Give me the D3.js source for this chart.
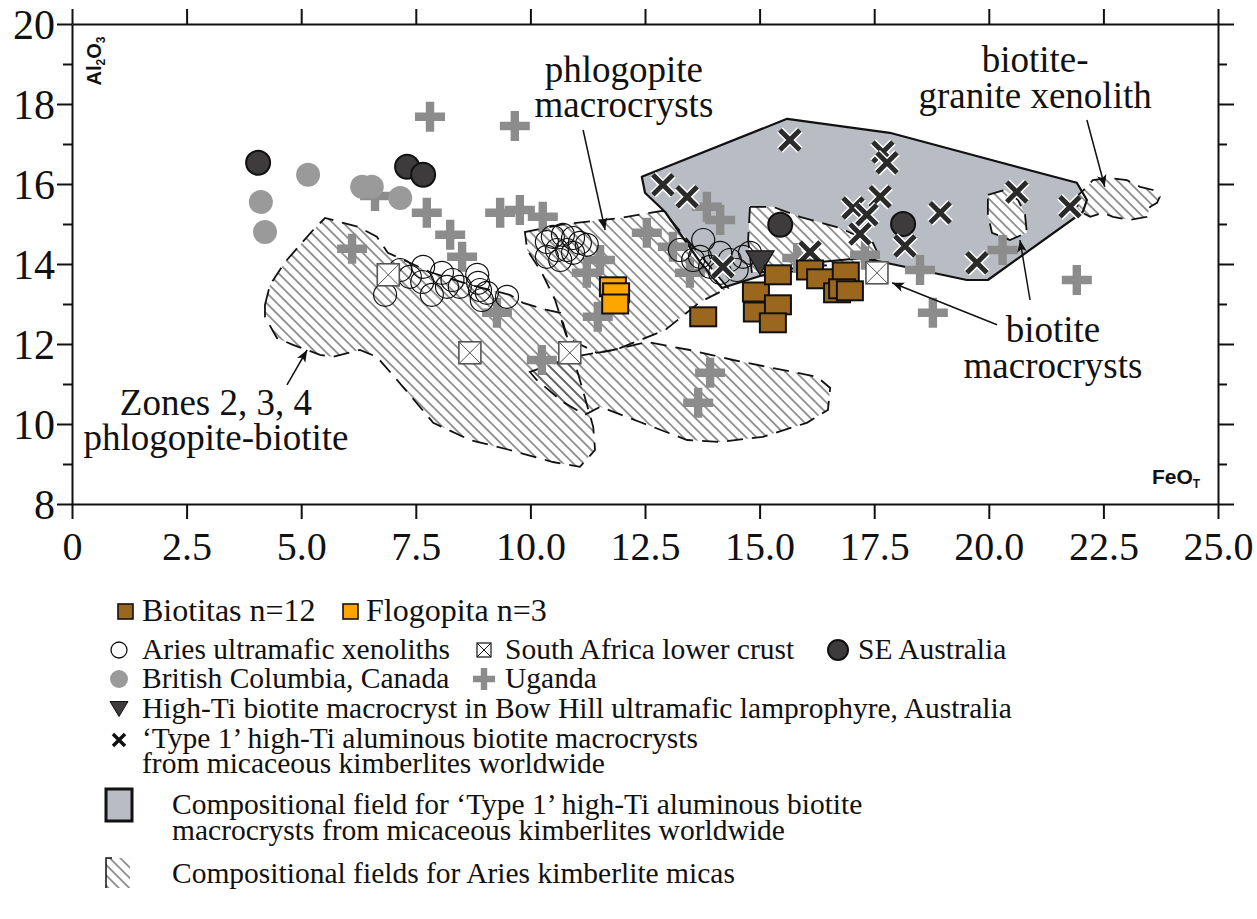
<!DOCTYPE html>
<html><head><meta charset="utf-8">
<script src="https://cdn.jsdelivr.net/npm/d3@7"></script>
<style>body{margin:0;background:#fff}</style>
</head><body><svg id="c" width="1257" height="919"></svg>
<script>
// ---------------- data (FeO_T wt%, Al2O3 wt%) ----------------
const xTicks=[0,2.5,5,7.5,10,12.5,15,17.5,20,22.5,25];
const xTickLabels=["0","2.5","5.0","7.5","10.0","12.5","15.0","17.5","20.0","22.5","25.0"];
const yMajor=[8,10,12,14,16,18,20];
const yMinor=[9,11,13,15,17,19];

const biotitas=[[13.77,12.68],[14.92,13.3],[15.4,13.73],[14.94,12.8],[15.4,12.98],[15.29,12.53],[16.1,13.85],[16.32,13.63],[16.88,13.8],[16.69,13.28],[16.8,13.38],[16.97,13.33]];
const flogopita=[[11.8,13.43],[11.87,13.28],[11.85,13.0]];
const ariesXenoliths=[[6.83,13.23],[7.16,13.85],[7.37,13.68],[7.66,13.93],[7.64,13.55],[7.85,13.23],[8.07,13.78],[8.18,13.43],[8.46,13.43],[8.84,13.73],[8.86,13.53],[8.9,13.35],[9.05,13.28],[9.49,13.18],[8.94,13.1],[8.3,13.6],
 [10.36,14.55],[10.49,14.68],[10.71,14.73],[10.93,14.65],[11.08,14.53],[11.23,14.48],[10.58,14.35],[10.8,14.35],[10.36,14.18],[10.65,14.1],[10.93,14.28],
 [13.26,14.35],[13.77,14.6],[13.7,14.18],[13.92,13.93],[14.14,14.28],[14.35,14.1],[14.14,13.78],[14.64,14.18],[14.5,13.85],[14.79,14.28],[13.55,14.1]];
const southAfrica=[[6.9,13.73],[8.68,11.78],[10.86,11.78],[17.56,13.78]];
const seAustralia=[[4.06,16.53],[7.31,16.43],[7.66,16.23],[15.45,14.98],[18.13,15.0]];
const britishColumbia=[[4.12,15.55],[4.21,14.8],[5.15,16.23],[6.33,15.93],[6.54,15.93],[7.16,15.65]];
const uganda=[[6.11,14.38],[6.61,15.7],[7.74,15.28],[7.81,17.68],[9.66,17.45],[8.25,14.73],[8.51,14.18],[9.27,12.78],[9.34,15.28],[9.77,15.35],[10.27,15.18],[11.52,14.1],[11.23,13.78],[11.47,12.68],[10.25,11.6],[13.92,11.28],[13.66,10.53],[12.54,14.78],[13.11,14.43],[13.85,15.43],[14.14,15.1],[13.48,13.78],[15.82,14.15],[17.3,14.23],[18.5,13.85],[18.78,12.78],[20.3,14.35],[21.92,13.6]];
const bowHill=[[15.01,14.03]];
const type1=[[15.66,17.1],[17.69,16.8],[17.78,16.53],[12.89,15.98],[13.42,15.68],[17.63,15.68],[17.04,15.4],[17.34,15.23],[18.94,15.28],[17.19,14.75],[18.17,14.45],[20.61,15.8],[19.74,14.03],[21.77,15.43],[16.1,14.3],[14.2,13.93]];

// compositional fields
const type1Field=[[12.43,16.18],[15.6,17.63],[17.84,17.28],[21.92,16.03],[22.14,15.6],[22.05,15.3],[19.98,13.6],[19.52,13.6],[17.26,14.15],[16.32,14.05],[15.01,13.7],[14.18,13.4],[13.7,14.05],[12.94,15.3],[12.5,15.78]];
const fieldZones=[[4.21,12.98],[4.32,13.48],[4.65,14.05],[5.26,14.85],[5.52,15.15],[6.24,14.93],[6.65,14.68],[6.89,14.28],[7.81,13.8],[8.68,13.48],[9.55,13.23],[9.84,13.03],[10.36,12.85],[10.65,12.78],[10.8,12.18],[11.08,11.1],[11.37,9.93],[11.41,9.35],[11.08,8.93],[10.49,9.05],[9.55,9.35],[8.68,9.6],[7.88,10.03],[7.22,10.93],[6.65,11.68],[6.28,11.85],[5.69,11.68],[5.41,11.73],[4.82,11.98],[4.47,12.15],[4.21,12.68]];
const fieldPhlogopite=[[9.88,14.8],[10.65,14.98],[11.95,15.15],[12.89,15.33],[13.7,14.23],[14.31,13.4],[13.7,13.05],[12.94,12.35],[11.85,11.85],[11.45,11.78],[10.8,12.15],[10.54,13.1],[10.25,13.78],[9.93,14.35]];
const fieldLower=[[9.99,11.3],[10.93,11.68],[11.8,11.85],[12.54,12.05],[13.48,11.85],[14.42,11.6],[15.29,11.4],[16.25,11.18],[16.54,10.9],[16.49,10.35],[16.03,10.03],[15.07,9.68],[14.14,9.55],[13.42,9.6],[12.39,10.05],[11.52,10.43],[11.19,10.23],[10.71,10.55],[10.14,11.1]];
const fieldBiotite=[[14.79,15.43],[15.29,15.43],[15.88,15.18],[16.75,14.9],[17.47,14.53],[17.63,14.15],[17.19,14.05],[16.32,13.95],[15.66,13.8],[14.83,13.8],[14.75,14.6]];
const fieldBiotite2=[[19.98,15.73],[20.35,15.85],[20.64,15.6],[20.79,15.23],[20.83,14.78],[20.46,14.6],[20.07,14.78],[19.98,15.23]];
const fieldXenolith=[[21.84,15.6],[22.14,15.93],[22.27,16.1],[22.64,16.15],[23.01,16.1],[23.3,15.93],[23.58,15.85],[23.73,15.68],[23.67,15.53],[23.52,15.43],[23.45,15.18],[23.08,15.1],[22.71,15.18],[22.49,15.28],[22.21,15.18],[22.05,15.28]];

// annotations (data units)
const annoText=[
 {t:"phlogopite",x:12.04,y:18.55},{t:"macrocrysts",x:12.04,y:17.68},
 {t:"biotite-",x:21.01,y:18.8},{t:"granite xenolith",x:21.01,y:17.9},
 {t:"biotite",x:21.4,y:12.05},{t:"macrocrysts",x:21.4,y:11.15},
 {t:"Zones 2, 3, 4",x:3.14,y:10.23},{t:"phlogopite-biotite",x:3.14,y:9.35}];
const annoArrows=[[[11.15,17.35],[11.63,14.85]],[[22.14,17.6],[22.53,15.93]],[[20.18,12.48],[17.89,13.53]],[[20.9,13.1],[20.68,14.6]],[[4.69,10.98],[5.13,11.85]]];

// ---------------- drawing ----------------
const svg=d3.select("#c");
const x=d3.scaleLinear().domain([0,25]).range([72,1218]);
const y=d3.scaleLinear().domain([8,20]).range([504,24]);
const SERIF="'Liberation Serif','Times New Roman',serif";
const SANS="'Liberation Sans',Arial,sans-serif";
const INK="#111";

const defs=svg.append("defs");
const pat=defs.append("pattern").attr("id","hatch").attr("patternUnits","userSpaceOnUse")
 .attr("width",10).attr("height",7.4).attr("patternTransform","rotate(45)");
pat.append("line").attr("x1",-1).attr("x2",11).attr("y1",3.7).attr("y2",3.7).attr("stroke","#444").attr("stroke-width",1.1);
defs.append("marker").attr("id","arr").attr("viewBox","0 0 10 10").attr("refX",10).attr("refY",5)
 .attr("markerUnits","userSpaceOnUse").attr("markerWidth",20).attr("markerHeight",12).attr("orient","auto")
 .append("path").attr("d","M0,1 L10,5 L0,9 L2.5,5 Z").attr("fill",INK);

const poly=d3.line().x(d=>x(d[0])).y(d=>y(d[1])).curve(d3.curveLinearClosed);

// grey field fill
svg.append("path").attr("d",poly(type1Field)).attr("fill","#b9bcc3");
// hatched fields
const hatchFields=[fieldZones,fieldPhlogopite,fieldLower,fieldBiotite,fieldBiotite2,fieldXenolith];
const gH=svg.append("g");
gH.selectAll("path.w").data(hatchFields).join("path").attr("class","w").attr("d",d=>poly(d)).attr("fill","#fff");
gH.selectAll("path.h").data(hatchFields).join("path").attr("class","h").attr("d",d=>poly(d)).attr("fill","url(#hatch)");
gH.selectAll("path.o").data(hatchFields).join("path").attr("class","o").attr("d",d=>poly(d))
 .attr("fill","none").attr("stroke",INK).attr("stroke-width",1.8).attr("stroke-dasharray","16,9");
// grey field outline
svg.append("path").attr("d",poly(type1Field)).attr("fill","none").attr("stroke",INK).attr("stroke-width",2.2).attr("stroke-linejoin","round");

// ---------------- axes ----------------
function styleAxis(g){g.selectAll("path,line").attr("stroke",INK).attr("stroke-width",2);g.selectAll("text").attr("fill",INK).attr("font-family",SERIF);}
svg.append("g").attr("transform",`translate(0,${y(8)})`)
 .call(d3.axisBottom(x).tickValues(xTicks).tickFormat((d,i)=>xTickLabels[i]).tickSize(15).tickSizeOuter(0).tickPadding(13))
 .call(styleAxis).selectAll("text").attr("font-size",40);
svg.append("g").attr("transform",`translate(0,${y(20)})`)
 .call(d3.axisTop(x).tickValues(xTicks).tickFormat("").tickSize(15).tickSizeOuter(0)).call(styleAxis);
svg.append("g").attr("transform",`translate(${x(0)},0)`)
 .call(d3.axisLeft(y).tickValues(yMajor).tickFormat(d3.format("d")).tickSize(15).tickSizeOuter(0).tickPadding(2))
 .call(styleAxis).selectAll("text").attr("font-size",42).attr("dy","0.34em");
svg.append("g").attr("transform",`translate(${x(0)},0)`)
 .call(d3.axisLeft(y).tickValues(yMinor).tickFormat("").tickSize(9)).call(styleAxis).select(".domain").remove();
svg.append("g").attr("transform",`translate(${x(25)},0)`)
 .call(d3.axisRight(y).tickValues(yMajor).tickFormat("").tickSize(16).tickSizeOuter(0)).call(styleAxis);
svg.append("g").attr("transform",`translate(${x(25)},0)`)
 .call(d3.axisRight(y).tickValues(yMinor).tickFormat("").tickSize(9)).call(styleAxis).select(".domain").remove();

// axis titles
const t1=svg.append("text").attr("transform",`translate(101,61) rotate(-90)`).attr("text-anchor","middle")
 .attr("font-family",SANS).attr("font-weight","bold").attr("font-size",20).attr("fill",INK);
t1.append("tspan").text("Al");t1.append("tspan").attr("font-size",12).attr("dy",4).text("2");
t1.append("tspan").attr("dy",-4).text("O");t1.append("tspan").attr("font-size",12).attr("dy",4).text("3");
const t2=svg.append("text").attr("x",1152).attr("y",484).attr("font-family",SANS).attr("font-weight","bold").attr("font-size",21).attr("fill",INK);
t2.append("tspan").text("FeO");t2.append("tspan").attr("font-size",12).attr("dy",4).text("T");

// ---------------- markers ----------------
function plusPath(L,w){return `M${-L},${-w}H${-w}V${-L}H${w}V${-w}H${L}V${w}H${w}V${L}H${-w}V${w}H${-L}Z`;}
function drawPlus(g,pts,L=15,w=4.2){g.selectAll(null).data(pts).join("path").attr("d",plusPath(L,w))
 .attr("transform",d=>`translate(${x(d[0])},${y(d[1])})`).attr("fill","#8c8c8c");}
function drawX(g,pts,h=10,sw=5){
 const gg=g.selectAll(null).data(pts).join("g").attr("transform",d=>`translate(${x(d[0])},${y(d[1])})`);
 gg.append("path").attr("d",`M${-h},${-h}L${h},${h}M${-h},${h}L${h},${-h}`).attr("stroke","#fff").attr("stroke-width",sw+3);
 gg.append("path").attr("d",`M${-h},${-h}L${h},${h}M${-h},${h}L${h},${-h}`).attr("stroke","#2a2a2a").attr("stroke-width",sw);
}
function drawBox(g,pts,fill,w=26,h=19){g.selectAll(null).data(pts).join("rect").attr("x",d=>x(d[0])-w/2).attr("y",d=>y(d[1])-h/2)
 .attr("width",w).attr("height",h).attr("fill",fill).attr("stroke",INK).attr("stroke-width",2);}
function drawSA(g,pts,s=22){const gg=g.selectAll(null).data(pts).join("g").attr("transform",d=>`translate(${x(d[0])},${y(d[1])})`);
 gg.append("rect").attr("x",-s/2).attr("y",-s/2).attr("width",s).attr("height",s).attr("fill","#fff").attr("stroke","#555").attr("stroke-width",1.6);
 gg.append("path").attr("d",`M${-s/2},${-s/2}L${s/2},${s/2}M${-s/2},${s/2}L${s/2},${-s/2}`).attr("stroke","#555").attr("stroke-width",1);}
function triPath(w,h){return `M${-w/2},${-h/2}L${w/2},${-h/2}L0,${h/2}Z`;}

const gm=svg.append("g");
drawPlus(gm,uganda);
gm.selectAll(null).data(britishColumbia).join("circle").attr("cx",d=>x(d[0])).attr("cy",d=>y(d[1])).attr("r",12).attr("fill","#9a9a9a");
gm.selectAll(null).data(seAustralia).join("circle").attr("cx",d=>x(d[0])).attr("cy",d=>y(d[1])).attr("r",12).attr("fill","#3d3b3c").attr("stroke",INK).attr("stroke-width",2);
gm.selectAll(null).data(ariesXenoliths).join("circle").attr("cx",d=>x(d[0])).attr("cy",d=>y(d[1])).attr("r",11.5).attr("fill","none").attr("stroke",INK).attr("stroke-width",1.2);
drawSA(gm,southAfrica);
drawX(gm,type1);
gm.selectAll(null).data(bowHill).join("path").attr("d",triPath(28,24)).attr("transform",d=>`translate(${x(d[0])},${y(d[1])})`).attr("fill","#3d3b3c").attr("stroke",INK).attr("stroke-width",1.2);
drawBox(gm,biotitas,"#9b671f");
drawBox(gm,flogopita,"#ffa500");

// annotations
svg.append("g").selectAll("line").data(annoArrows).join("line")
 .attr("x1",d=>x(d[0][0])).attr("y1",d=>y(d[0][1])).attr("x2",d=>x(d[1][0])).attr("y2",d=>y(d[1][1]))
 .attr("stroke",INK).attr("stroke-width",1.5).attr("marker-end","url(#arr)");
svg.append("g").selectAll("text").data(annoText).join("text").attr("x",d=>x(d.x)).attr("y",d=>y(d.y))
 .attr("text-anchor","middle").attr("font-family",SERIF).attr("font-size",37).attr("fill",INK).text(d=>d.t);

// ---------------- legend ----------------
const lg=svg.append("g").attr("font-family",SERIF).attr("font-size",29.5).attr("fill",INK);
function ltext(tx,ty,s,fs){const t=lg.append("text").attr("x",tx).attr("y",ty).text(s);if(fs)t.attr("font-size",fs);}
const LB=9; // baseline offset from row centre
// row 1
lg.append("rect").attr("x",118).attr("y",604).attr("width",15).attr("height",15).attr("fill","#9b671f").attr("stroke",INK).attr("stroke-width",1.6);
ltext(142,612+LB,"Biotitas n=12",32);
lg.append("rect").attr("x",343).attr("y",604).attr("width",15).attr("height",15).attr("fill","#ffa500").attr("stroke",INK).attr("stroke-width",1.6);
ltext(366,612+LB,"Flogopita n=3",32);
// row 2
lg.append("circle").attr("cx",119).attr("cy",650).attr("r",8).attr("fill","none").attr("stroke",INK).attr("stroke-width",1.3);
ltext(142,650+LB,"Aries ultramafic xenoliths");
lg.append("rect").attr("x",477).attr("y",643).attr("width",14).attr("height",14).attr("fill","none").attr("stroke",INK).attr("stroke-width",1.2);
lg.append("path").attr("d","M477,643L491,657M477,657L491,643").attr("stroke",INK).attr("stroke-width",1);
ltext(505,650+LB,"South Africa lower crust");
lg.append("circle").attr("cx",838).attr("cy",650).attr("r",10).attr("fill","#3d3b3c").attr("stroke",INK).attr("stroke-width",2);
ltext(858,650+LB,"SE Australia");
// row 3
lg.append("circle").attr("cx",119).attr("cy",679).attr("r",9).attr("fill","#9a9a9a");
ltext(142,679+LB,"British Columbia, Canada");
lg.append("path").attr("d",plusPath(11,3.2)).attr("transform","translate(484,679)").attr("fill","#8c8c8c");
ltext(505,679+LB,"Uganda");
// row 4
lg.append("path").attr("d",triPath(18,15)).attr("transform","translate(119,709)").attr("fill","#3d3b3c").attr("stroke",INK);
ltext(142,709+LB,"High-Ti biotite macrocryst in Bow Hill ultramafic lamprophyre, Australia");
// row 5-6
lg.append("path").attr("d","M113,734L125,746M113,746L125,734").attr("stroke",INK).attr("stroke-width",3.5);
ltext(142,739+LB,"\u2018Type 1\u2019 high-Ti aluminous biotite macrocrysts");
ltext(142,764+LB,"from micaceous kimberlites worldwide");
// row 7-8
lg.append("rect").attr("x",106).attr("y",789).attr("width",26).attr("height",32).attr("fill","#b9bcc3").attr("stroke",INK).attr("stroke-width",3);
ltext(172,805+LB,"Compositional field for \u2018Type 1\u2019 high-Ti aluminous biotite");
ltext(172,831+LB,"macrocrysts from micaceous kimberlites worldwide");
// row 9
lg.append("rect").attr("x",106).attr("y",858).attr("width",24).attr("height",30).attr("fill","url(#hatch)");
lg.append("path").attr("d","M106,888V858H112").attr("fill","none").attr("stroke",INK).attr("stroke-width",1.5);
ltext(172,874+LB,"Compositional fields for Aries kimberlite micas");
</script></body></html>
